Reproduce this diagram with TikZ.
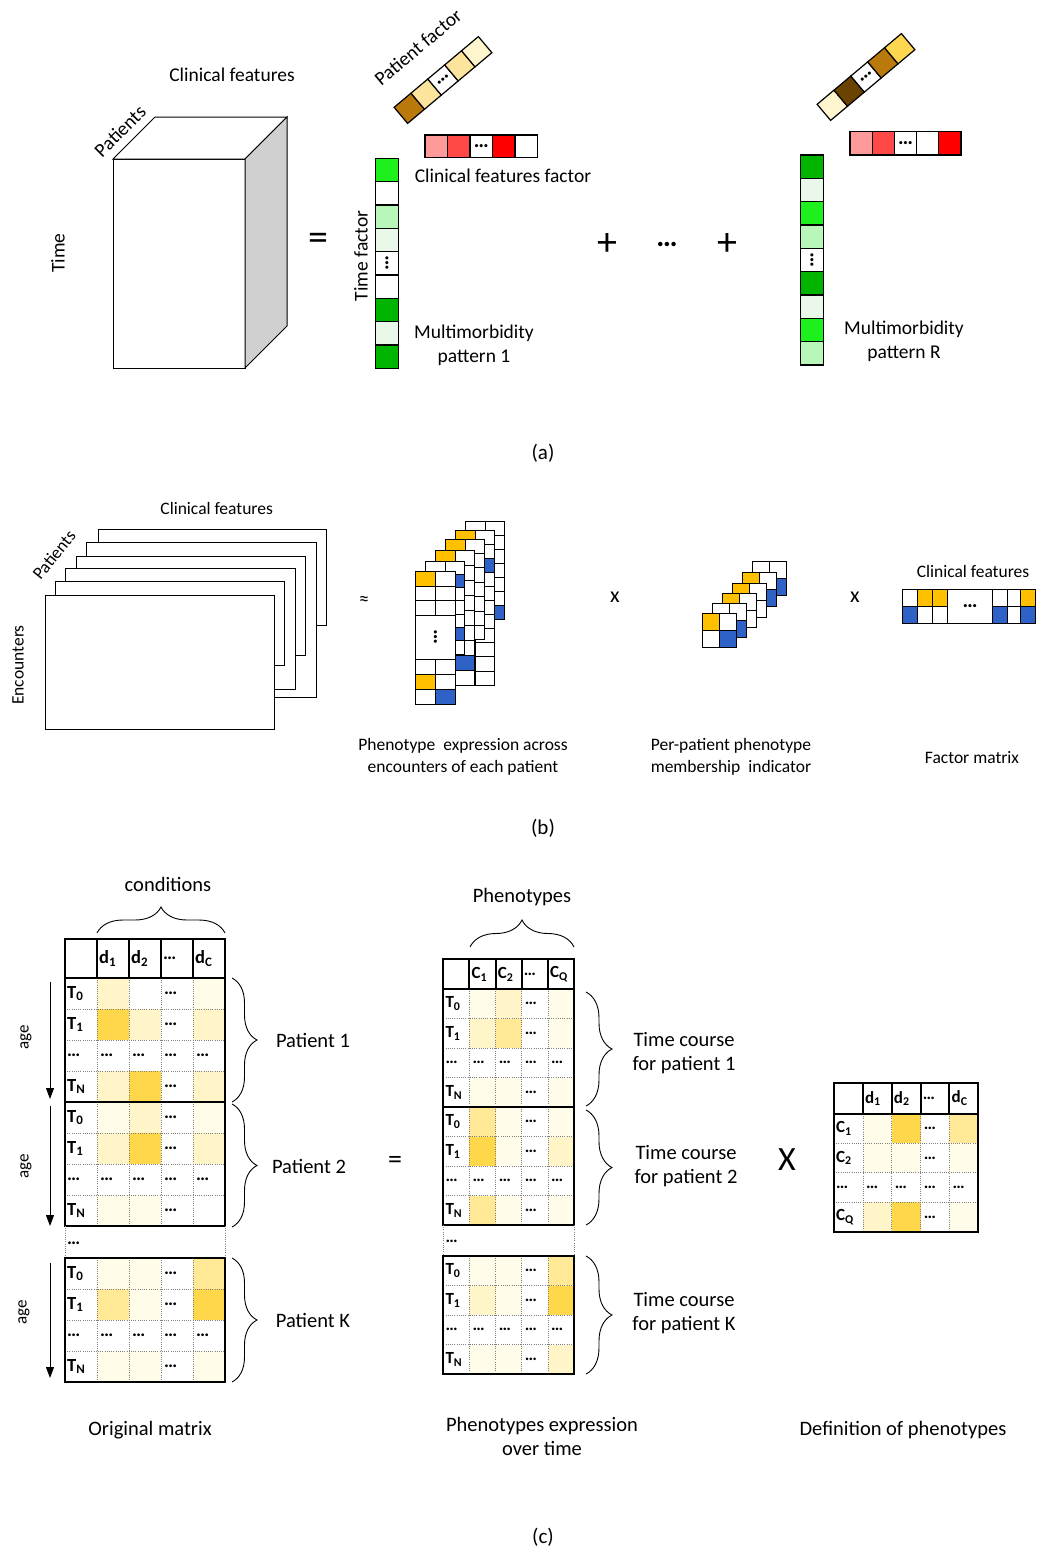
\documentclass[tikz,border=0pt]{standalone}
\usepackage{fontspec}
\setmainfont{Carlito}
\usetikzlibrary{arrows.meta,decorations.pathreplacing}
\definecolor{gA}{HTML}{00B400}
\definecolor{gB}{HTML}{1EF01E}
\definecolor{gC}{HTML}{B9F6B9}
\definecolor{gD}{HTML}{EAF8EA}
\definecolor{rA}{HTML}{FF9A9A}
\definecolor{rB}{HTML}{FF4848}
\definecolor{rC}{HTML}{FF0000}
\definecolor{bA}{HTML}{B97A0B}
\definecolor{bB}{HTML}{FDE49C}
\definecolor{bC}{HTML}{FFF5CE}
\definecolor{bD}{HTML}{FFD650}
\definecolor{bE}{HTML}{6A4300}
\definecolor{oY}{HTML}{FFC000}
\definecolor{oB}{HTML}{2F62C6}
\definecolor{Y0}{HTML}{FFFFFF}
\definecolor{Y1}{HTML}{FFFCEA}
\definecolor{Y2}{HTML}{FFF5C8}
\definecolor{Y3}{HTML}{FFE896}
\definecolor{Y4}{HTML}{FFD74A}
\definecolor{cubegray}{HTML}{D0D0D0}
\def\mlfs{\fontsize{18.5}{20}\selectfont}
\tikzset{
 la/.style={font=\fontsize{19.5}{24}\selectfont, inner sep=0pt},
 lb/.style={font=\fontsize{17.5}{22}\selectfont, inner sep=0pt},
 lc/.style={font=\fontsize{20.5}{24}\selectfont, inner sep=0pt},
 ml/.style={font=\bfseries\mlfs, inner sep=0pt, anchor=west},
 sline/.style={draw=black, line width=1.2pt},
 thickb/.style={line width=2pt},
 dgrid/.style={draw=gray, line width=0.7pt, dash pattern=on 1pt off 1.2pt},
 pline/.style={line width=1pt},
 brc/.style={decorate, decoration={brace, amplitude=#1}, line width=0.9pt},
 agearrow/.style={line width=1pt, -{Triangle[length=11pt,width=8pt]}},
 dotsb/.style={font=\bfseries\fontsize{21}{21}\selectfont, inner sep=0pt},
}
% header row: x0,y0,cw,hh,labels
\newcommand{\mhead}[5]{%
 \draw[thickb] (#1,#2) rectangle ++({5*#3},#4);
 \foreach \k in {1,2,3,4} \draw[thickb] ({#1+\k*#3},#2) -- ++(0,#4);
 \foreach \lab [count=\k] in {#5} \node[ml] at ({#1+\k*#3+2},{#2+0.5*#4}) {\lab};
}
% block: x0,y0,cw,rh,colors(16),labels(4)
\newcommand{\mblock}[6]{%
 \foreach \cc [count=\i from 0] in {#5}{%
   \pgfmathtruncatemacro\rr{\i/4}%
   \pgfmathtruncatemacro\kk{mod(\i,4)+1}%
   \fill[\cc] ({#1+\kk*#3},{#2+\rr*#4}) rectangle ++(#3,#4);
 }
 \foreach \k in {1,2,3,4} \draw[dgrid] ({#1+\k*#3},#2) -- ++(0,{4*#4});
 \foreach \r in {1,2,3} \draw[dgrid] (#1,{#2+\r*#4}) -- ++({5*#3},0);
 \draw[thickb] (#1,#2) rectangle ++({5*#3},{4*#4});
 \foreach \lab [count=\i from 0] in {#6} \node[ml] at ({#1+2},{#2+(\i+0.5)*#4}) {\lab};
 \foreach \r in {0,1,3} \node[ml] at ({#1+3*#3+3},{#2+(\r+0.5)*#4}) {…};
 \foreach \k in {1,2,3,4} \node[ml] at ({#1+\k*#3+3},{#2+2.5*#4}) {…};
}
% panel (b) phenotype: left, top, n, rh, fills
\newcommand{\bpanel}[5]{%
 \fill[white] (#1,#2) rectangle ++(39,{#3*#4});
 \foreach \r/\c/\cc in {#5} \fill[\cc] ({#1+\c*19.5},{#2+\r*#4}) rectangle ++(19.5,#4);
 \pgfmathtruncatemacro\nm{#3-1}%
 \foreach \r in {1,...,\nm} \draw[pline] (#1,{#2+\r*#4}) -- ++(39,0);
 \draw[pline] ({#1+19.5},#2) -- ++(0,{#3*#4});
 \draw[pline] (#1,#2) rectangle ++(39,{#3*#4});
}
% per-patient panel: left, top, fills
\newcommand{\ppanel}[3]{%
 \fill[white] (#1,#2) rectangle ++(34,34);
 \foreach \r/\c/\cc in {#3} \fill[\cc] ({#1+\c*17},{#2+\r*17}) rectangle ++(17,17);
 \draw[pline] ({#1+17},#2) -- ++(0,34);
 \draw[pline] (#1,{#2+17}) -- ++(34,0);
 \draw[pline] (#1,#2) rectangle ++(34,34);
}
\begin{document}
\begin{tikzpicture}[x=1pt,y=-1pt]
\useasboundingbox[fill=white] (0,0) rectangle (1037,1551);

% ================= (a) =================
\draw[fill=white, line width=1pt] (113,159) rectangle (245,368);
\draw[fill=white, line width=1pt] (113,159) -- (155,117) -- (287,117) -- (245,159) -- cycle;
\draw[fill=cubegray, line width=1pt] (245,159) -- (287,117) -- (287,326) -- (245,368) -- cycle;
\node[la] (aCF) at (232,75) {Clinical features};
\node[la, rotate=45] (aPat) at (120,131) {Patients};
\node[la, rotate=90] (aTime) at (58,253) {Time};
\node[font=\fontsize{40}{40}\selectfont, inner sep=0pt] (aEq) at (318,242) {=};

% pattern 1
\begin{scope}[shift={(443,80)}, rotate=40]
 \foreach \cc [count=\i from 0] in {bA,bB,white,bB,bC}
   \filldraw[fill=\cc, sline] ({-55+22*\i},-10.5) rectangle ++(22,21);
 \node[dotsb, rotate=40] (p1dots) at (0,0) {…};
\end{scope}
\node[la, rotate=40] (aPF) at (418,47) {Patient factor};
\foreach \cc [count=\i from 0] in {rA,rB,white,rC,white}
  \filldraw[fill=\cc, sline] ({425+22.5*\i},135) rectangle ++(22.5,22.3);
\node[dotsb] (c1dots) at (481.25,146) {…};
\foreach \cc [count=\i from 0] in {gB,white,gC,gD,white,white,gA,gD,gA}
  \filldraw[fill=\cc, sline] (375.7,{158.3+23.33*\i}) rectangle ++(22.6,23.33);
\node[dotsb, rotate=90] (t1dots) at (387,263.3) {…};
\node[la] (aCFF) at (503,176) {Clinical features factor};
\node[la, rotate=90] (aTF) at (361,256) {Time factor};
\node[la, align=center] (aM1) at (474,345) {Multimorbidity\\pattern 1};

\node[font=\fontsize{40}{40}\selectfont, inner sep=0pt] (aPlus1) at (607,244) {+};
\node[font=\bfseries\fontsize{30}{30}\selectfont, inner sep=0pt] (aDots) at (667,244) {…};
\node[font=\fontsize{40}{40}\selectfont, inner sep=0pt] (aPlus2) at (727,244) {+};

% pattern R
\begin{scope}[shift={(866,77)}, rotate=40]
 \foreach \cc [count=\i from 0] in {bC,bE,white,bA,bD}
   \filldraw[fill=\cc, sline] ({-55+22*\i},-10.5) rectangle ++(22,21);
 \node[dotsb, rotate=40] (pRdots) at (0,0) {…};
\end{scope}
\foreach \cc [count=\i from 0] in {rA,rB,white,white,rC}
  \filldraw[fill=\cc, sline] ({850+22.2*\i},131.7) rectangle ++(22.2,23.3);
\node[dotsb] (cRdots) at (905.5,143.3) {…};
\foreach \cc [count=\i from 0] in {gA,gD,gB,gC,white,gA,gD,gB,gC}
  \filldraw[fill=\cc, sline] (800.7,{155+23.33*\i}) rectangle ++(22.6,23.33);
\node[dotsb, rotate=90] (tRdots) at (812,260) {…};
\node[la, align=center] (aMR) at (904,341) {Multimorbidity\\pattern R};

\node[font=\fontsize{21}{24}\selectfont, inner sep=0pt] (capA) at (543,453) {(a)};

% ================= (b) =================
\foreach \l/\t/\r/\b in {98.3/529/326.7/625, 86.7/542.3/316/697.7, 76.7/556/305/655.7, 65/568.3/295/689, 55/581.7/284/665, 45/595/274/729.3}
  \filldraw[fill=white, line width=1pt] (\l,\t) rectangle (\r,\b);
\node[lb] (bCF) at (216.7,508) {Clinical features};
\node[lb, rotate=51] (bPat) at (54,555) {Patients};
\node[lb, rotate=90] (bEnc) at (18,665) {Encounters};
\node[font=\fontsize{20}{20}\selectfont, inner sep=0pt] (bApprox) at (364,601) {≈};

% phenotype expression stack
\bpanel{465.7}{521}{7}{14}{6/1/oB}
\bpanel{455.7}{530}{11}{14.1}{0/0/oY, 2/1/oB}
\bpanel{445.7}{539}{7}{14.4}{0/0/oY}
\bpanel{435.7}{550}{9}{15}{0/0/oY, 7/1/oB}
\bpanel{425.7}{561}{7}{13.3}{1/1/oB, 5/1/oB}
% front panel
\fill[white] (415.7,571.7) rectangle (455.2,704.7);
\fill[oY] (415.7,571.7) rectangle ++(19.5,14.5);
\fill[oY] (415.7,674.7) rectangle ++(19.5,15);
\fill[oB] (435.2,689.7) rectangle ++(20,15);
\foreach \yy in {586.2,600.7,615.2,659.7,674.7,689.7} \draw[pline] (415.7,\yy) -- (455.2,\yy);
\draw[pline] (435.45,571.7) -- (435.45,615.2);
\draw[pline] (435.45,659.7) -- (435.45,704.7);
\draw[pline] (415.7,571.7) rectangle (455.2,704.7);
\node[dotsb, rotate=90] (bFdots) at (435.45,637.5) {…};
\node[lb, align=center] (bPE) at (463,757) {Phenotype\ \ expression across\\encounters of each patient};
\node[font=\fontsize{22}{22}\selectfont, inner sep=0pt] (bX1) at (615,597) {x};

% per-patient membership stack
\ppanel{752.3}{561.7}{1/1/oB}
\ppanel{742.3}{572.7}{0/0/oY, 1/1/oB}
\ppanel{732.3}{583.3}{0/0/oY}
\ppanel{722.3}{593.3}{0/0/oY}
\ppanel{712.7}{603.3}{1/1/oB}
\ppanel{702.7}{613.3}{0/0/oY, 1/1/oB}
\node[lb, align=center] (bPP) at (731,757) {Per-patient phenotype\\membership\ \ indicator};
\node[font=\fontsize{22}{22}\selectfont, inner sep=0pt] (bX2) at (855,597) {x};

% factor matrix
\fill[oY] (917.7,589) rectangle (947.7,606);
\fill[oY] (1020.7,589) rectangle (1035,606);
\fill[oB] (902.7,606) rectangle (917.7,623.3);
\fill[oB] (992.7,606) rectangle (1007.3,623.3);
\fill[oB] (1020.7,606) rectangle (1035,623.3);
\draw[pline] (902.7,606) -- (947.7,606);
\draw[pline] (992.7,606) -- (1035,606);
\foreach \xx in {917.7,932.7,947.7,992.7,1007.3,1020.7} \draw[pline] (\xx,589) -- (\xx,623.3);
\draw[pline] (902.7,589) rectangle (1035,623.3);
\node[dotsb] (bFMdots) at (970.2,606) {…};
\node[lb] (bCF2) at (973,571) {Clinical features};
\node[lb] (bFM) at (972,758) {Factor matrix};

\node[font=\fontsize{21}{24}\selectfont, inner sep=0pt] (capB) at (543,828) {(b)};

% ================= (c) =================
% left matrix
\mhead{65}{939}{32}{39}{d\textsubscript{1},d\textsubscript{2},…,d\textsubscript{C}}
\mblock{65}{978}{32}{31}{Y2,Y0,Y0,Y1, Y4,Y2,Y0,Y2, Y0,Y0,Y0,Y0, Y2,Y4,Y0,Y2}{T\textsubscript{0},T\textsubscript{1},…,T\textsubscript{N}}
\mblock{65}{1102}{32}{31}{Y1,Y2,Y0,Y1, Y2,Y4,Y0,Y2, Y0,Y0,Y0,Y0, Y1,Y1,Y0,Y0}{T\textsubscript{0},T\textsubscript{1},…,T\textsubscript{N}}
\draw[dgrid] (65,1226) -- (65,1258);
\draw[dgrid] (225,1226) -- (225,1258);
\node[ml] (lgapdots) at (67,1243) {…};
\mblock{65}{1258}{32}{31}{Y1,Y1,Y0,Y3, Y3,Y1,Y0,Y4, Y0,Y0,Y0,Y0, Y1,Y1,Y0,Y1}{T\textsubscript{0},T\textsubscript{1},…,T\textsubscript{N}}

\coordinate (cb1) at (97,933); \coordinate (cb2) at (225,933);
\draw[brc=26pt] (cb1) -- (cb2);
\node[lc] (cCond) at (168,884) {conditions};

\coordinate (lp1a) at (232,978); \coordinate (lp1b) at (232,1102);
\coordinate (lp2a) at (232,1104); \coordinate (lp2b) at (232,1227);
\coordinate (lpKa) at (232,1258); \coordinate (lpKb) at (232,1382);
\draw[brc=25pt] (lp1a) -- (lp1b);
\draw[brc=25pt] (lp2a) -- (lp2b);
\draw[brc=25pt] (lpKa) -- (lpKb);
\node[lc] (cP1) at (313,1040) {Patient 1};
\node[lc] (cP2) at (309,1166) {Patient 2};
\node[lc] (cPK) at (313,1320) {Patient K};

\coordinate (ag1a) at (50,982); \coordinate (ag1b) at (50,1099);
\coordinate (ag2a) at (50,1106); \coordinate (ag2b) at (50,1226);
\coordinate (agKa) at (50,1263); \coordinate (agKb) at (50,1378);
\draw[agearrow] (ag1a) -- (ag1b);
\draw[agearrow] (ag2a) -- (ag2b);
\draw[agearrow] (agKa) -- (agKb);
\node[font=\fontsize{17}{20}\selectfont, inner sep=0pt, rotate=90] (age1) at (26,1037) {age};
\node[font=\fontsize{17}{20}\selectfont, inner sep=0pt, rotate=90] (age2) at (26,1166) {age};
\node[font=\fontsize{17}{20}\selectfont, inner sep=0pt, rotate=90] (ageK) at (24,1312) {age};

\node[font=\fontsize{28}{28}\selectfont, inner sep=0pt] (cEq) at (395,1162) {=};

% middle matrix
\def\mlfs{\fontsize{17}{19}\selectfont}
\mhead{443.3}{959.3}{26.14}{29.7}{C\textsubscript{1},C\textsubscript{2},…,C\textsubscript{Q}}
\mblock{443.3}{989}{26.14}{29.5}{Y1,Y2,Y0,Y1, Y2,Y3,Y0,Y1, Y0,Y0,Y0,Y0, Y1,Y1,Y0,Y1}{T\textsubscript{0},T\textsubscript{1},…,T\textsubscript{N}}
\mblock{443.3}{1107}{26.14}{29.5}{Y3,Y1,Y0,Y1, Y4,Y1,Y0,Y2, Y0,Y0,Y0,Y0, Y3,Y1,Y0,Y1}{T\textsubscript{0},T\textsubscript{1},…,T\textsubscript{N}}
\draw[dgrid] (443.3,1225) -- (443.3,1256);
\draw[dgrid] (574,1225) -- (574,1256);
\node[ml] (mgapdots) at (445.3,1241) {…};
\mblock{443.3}{1256}{26.14}{29.5}{Y1,Y1,Y0,Y3, Y2,Y1,Y0,Y4, Y0,Y0,Y0,Y0, Y1,Y1,Y0,Y2}{T\textsubscript{0},T\textsubscript{1},…,T\textsubscript{N}}

\coordinate (pb1) at (470,947); \coordinate (pb2) at (574,947);
\draw[brc=27pt] (pb1) -- (pb2);
\node[lc] (cPh) at (522,897) {Phenotypes};

\coordinate (mp1a) at (586,992); \coordinate (mp1b) at (586,1106);
\coordinate (mp2a) at (586,1110); \coordinate (mp2b) at (586,1225);
\coordinate (mpKa) at (586,1256); \coordinate (mpKb) at (586,1374);
\draw[brc=26pt] (mp1a) -- (mp1b);
\draw[brc=26pt] (mp2a) -- (mp2b);
\draw[brc=26pt] (mpKa) -- (mpKb);
\node[lc, align=center] (cT1) at (684,1053) {Time course\\for patient 1};
\node[lc, align=center] (cT2) at (686,1166) {Time course\\for patient 2};
\node[lc, align=center] (cTK) at (684,1313) {Time course\\for patient K};

\node[font=\fontsize{34}{34}\selectfont, inner sep=0pt] (cX) at (787,1160) {X};

% right matrix
\mhead{834}{1082.7}{28.86}{31.3}{d\textsubscript{1},d\textsubscript{2},…,d\textsubscript{C}}
\mblock{834}{1114}{28.86}{29.4}{Y1,Y4,Y0,Y3, Y1,Y1,Y0,Y1, Y0,Y0,Y0,Y0, Y2,Y4,Y0,Y1}{C\textsubscript{1},C\textsubscript{2},…,C\textsubscript{Q}}

\node[lc] (cOM) at (150,1430) {Original matrix};
\node[lc, align=center] (cPE) at (542,1436) {Phenotypes expression\\over time};
\node[lc] (cDP) at (903,1430) {Definition of phenotypes};
\node[font=\fontsize{21}{24}\selectfont, inner sep=0pt] (capC) at (543,1537) {(c)};
\end{tikzpicture}
\end{document}
